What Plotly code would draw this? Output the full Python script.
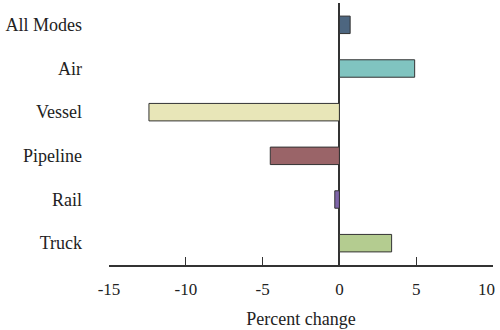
import plotly.graph_objects as go

categories = ["All Modes", "Air", "Vessel", "Pipeline", "Rail", "Truck"]
values = [0.7, 4.9, -12.4, -4.5, -0.3, 3.4]
bar_colors = ["#4d6680", "#80c4c0", "#e8e6b8", "#9a6468", "#7e64a8", "#b4cc90"]
x_ticks = [-15, -10, -5, 0, 5, 10]
x_tick_labels = ["-15", "-10", "-5", "0", "5", "10"]
x_title = "Percent change"

FONT = "Liberation Serif, Times New Roman, serif"
TICKFONT = dict(size=17, family=FONT, color="#222222")

fig = go.Figure(go.Bar(
    y=categories, x=values, orientation="h",
    marker=dict(color=bar_colors, line=dict(color="#333333", width=1)),
))

# last tick label is right-aligned to its tick so it stays inside the page
fig.add_annotation(
    x=x_ticks[-1], xref="x", y=0, yref="paper",
    text=x_tick_labels[-1], showarrow=False,
    xanchor="right", yanchor="middle", xshift=4, yshift=-24,
    font=TICKFONT,
)

fig.update_layout(
    width=500, height=330,
    margin=dict(l=109, r=7, t=3, b=65),
    paper_bgcolor="white", plot_bgcolor="white",
    bargap=0.6,
    showlegend=False,
    font=dict(family=FONT, size=18, color="#222222"),
)
fig.update_xaxes(
    range=[-15, 10], tickvals=x_ticks, ticktext=x_tick_labels[:-1] + [""],
    showgrid=False, zeroline=True, zerolinecolor="#333333", zerolinewidth=1.5,
    showline=True, linecolor="#333333", linewidth=1.5,
    ticks="inside", ticklen=8, tickcolor="#333333", tickwidth=1.2,
    ticklabeloverflow="allow", ticklabelstandoff=8, automargin=False,
    tickfont=TICKFONT,
    title=dict(text=x_title, font=dict(size=18, family=FONT, color="#222222"), standoff=14),
)
fig.update_yaxes(
    categoryorder="array", categoryarray=categories, autorange=False,
    range=[5.5, -0.5], automargin=False,
    showgrid=False, zeroline=False, showline=False, ticks="",
    ticklabelstandoff=26,
    tickfont=dict(size=18, family=FONT, color="#222222"),
)

fig.write_html("out.html")
